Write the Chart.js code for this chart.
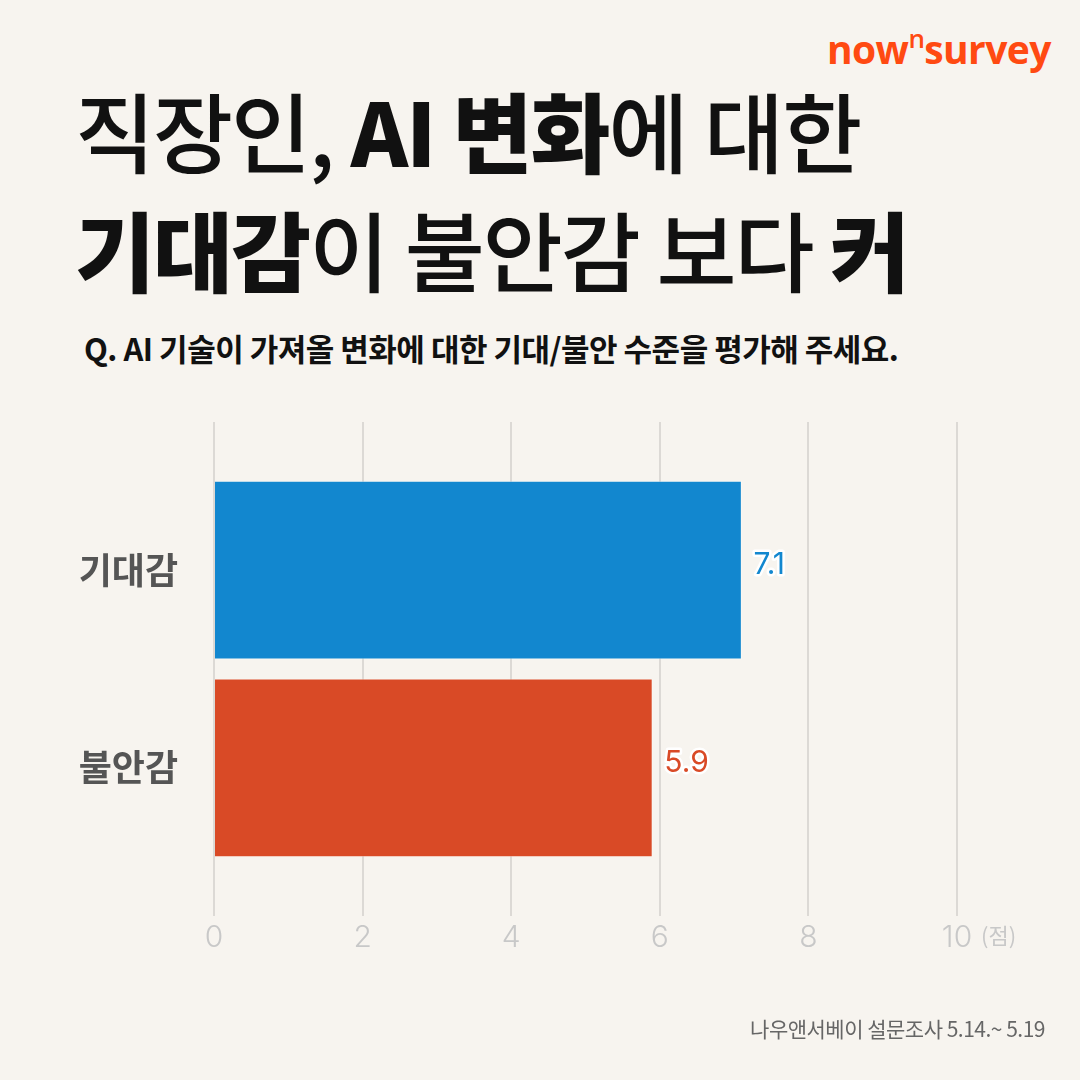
<!DOCTYPE html>
<html><head><meta charset="utf-8">
<script src="https://cdn.jsdelivr.net/npm/chart.js@4"></script>
<style>
html,body{margin:0;padding:0;background:#f7f4ef;}
#wrap{position:relative;width:1080px;height:1080px;overflow:hidden;background:#f7f4ef;font-family:"Noto Sans CJK KR",sans-serif;}
#c{position:absolute;left:0;top:0;}
.t{position:absolute;left:75px;font-size:87px;letter-spacing:-2px;color:#111;font-weight:500;white-space:nowrap;line-height:1;}
.t b{font-weight:900;}
#q{position:absolute;left:84px;top:332px;font-size:31px;font-weight:700;color:#111;white-space:nowrap;letter-spacing:-0.5px;line-height:1;}
#logo{position:absolute;left:827px;top:29px;font-family:"Open Sans","Noto Sans",sans-serif;font-weight:700;font-size:39px;color:#ff4a12;letter-spacing:-0.6px;line-height:1;white-space:nowrap;}
#logo sup{font-size:26px;font-weight:600;position:relative;top:-4px;vertical-align:top;}
#foot{position:absolute;right:35px;top:1018px;font-size:21px;color:#666;white-space:nowrap;line-height:1;letter-spacing:-0.5px;}
</style></head>
<body><div id="wrap">
<div id="logo">now<sup>n</sup>survey</div>
<div class="t" style="top:86px">직장인, <b>AI 변화</b>에 대한</div>
<div class="t" style="top:205px"><b>기대감</b>이 불안감 보다 <b>커</b></div>
<div id="q">Q. AI 기술이 가져올 변화에 대한 기대/불안 수준을 평가해 주세요.</div>
<canvas id="c" width="1080" height="1080"></canvas>
<div id="foot">나우앤서베이 설문조사 5.14.~ 5.19</div>
</div>
<script>
const categories = ['기대감', '불안감'];
const values = [7.1, 5.9];
const barColors = ['#1287cf', '#d94a26'];
const xTicks = [0, 2, 4, 6, 8, 10];
const unitLabel = '(점)';

const valueLabels = {
  id: 'valueLabels',
  afterDatasetsDraw(chart) {
    const ctx = chart.ctx;
    const meta = chart.getDatasetMeta(0);
    ctx.save();
    ctx.font = '400 30px Inter, "Noto Sans CJK KR", sans-serif';
    ctx.textBaseline = 'middle';
    ctx.textAlign = 'left';
    ctx.lineJoin = 'round';
    meta.data.forEach((bar, i) => {
      const txt = values[i].toFixed(1);
      ctx.lineWidth = 5;
      ctx.strokeStyle = '#ffffff';
      ctx.strokeText(txt, bar.x + 12, bar.y - 5);
      ctx.fillStyle = barColors[i];
      ctx.fillText(txt, bar.x + 12, bar.y - 5);
    });
    const xs = chart.scales.x;
    const px = xs.getPixelForValue(10);
    ctx.font = '400 22px "Noto Sans CJK KR", sans-serif';
    ctx.fillStyle = '#c8c8c8';
    ctx.fillText(unitLabel, px + 24, 936);
    ctx.restore();
  }
};

new Chart(document.getElementById('c'), {
  type: 'bar',
  data: {
    datasets: [{
      data: categories.map((c, i) => ({ x: values[i], y: i })),
      backgroundColor: barColors,
      borderColor: barColors.map(() => 'rgba(255,255,255,0.35)'),
      borderWidth: 1,
      barThickness: 178
    }]
  },
  options: {
    indexAxis: 'y',
    responsive: false,
    animation: false,
    devicePixelRatio: 1,
    layout: { padding: { left: 0, right: 123, top: 422, bottom: 104 } },
    plugins: { legend: { display: false }, tooltip: { enabled: false } },
    scales: {
      x: {
        type: 'linear', min: 0, max: 10,
        afterBuildTicks: s => { s.ticks = xTicks.map(v => ({ value: v })); },
        afterFit: s => { s.height = 60; },
        grid: { color: '#dcd9d5', lineWidth: 2, drawTicks: false },
        border: { display: false },
        ticks: {
          padding: 4,
          color: '#c8c8c8',
          font: { family: 'Inter, "Noto Sans CJK KR", sans-serif', size: 30, weight: 300 }
        }
      },
      y: {
        type: 'linear', min: -0.75, max: 1.75, reverse: true, offset: false,
        afterBuildTicks: s => { s.ticks = categories.map((c, i) => ({ value: i })); },
        afterFit: s => { s.width = 214; },
        grid: { display: false, offset: false },
        border: { display: false },
        ticks: {
          padding: 28,
          color: '#555555',
          font: { family: '"Noto Sans CJK KR", sans-serif', size: 36, weight: 600 },
          callback: v => categories[v]
        }
      }
    }
  },
  plugins: [valueLabels]
});
</script>
</body></html>
